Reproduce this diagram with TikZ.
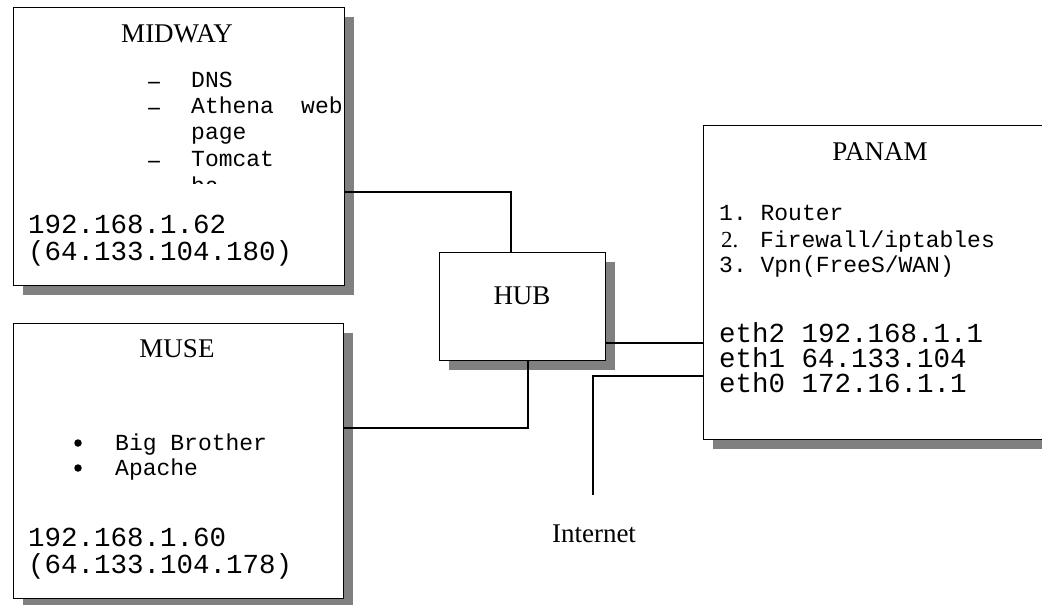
\documentclass[tikz,border=0pt]{standalone}
\usepackage{fontspec}
\setmainfont{Liberation Serif}
\setmonofont{Liberation Mono}
\usetikzlibrary{shadows}
\definecolor{shgray}{HTML}{808080}
\tikzset{
  box/.style={draw=black, line width=1.2pt, fill=white, anchor=north west, inner sep=0pt,
    drop shadow={opacity=1, fill=shgray, shadow xshift=9pt, shadow yshift=-9pt}},
  title/.style={font=\fontsize{27}{27}\selectfont, anchor=base, inner sep=0pt},
  item/.style={font=\ttfamily\fontsize{23}{23}\selectfont, anchor=base west, inner sep=0pt},
  ip/.style={font=\ttfamily\fontsize{27.5}{27.5}\selectfont, anchor=base west, inner sep=0pt},
  bul/.style={font=\bfseries\fontsize{23}{23}\selectfont, anchor=base, inner sep=0pt},
  dot/.style={circle, fill=black, inner sep=0pt, minimum size=7.5pt},
  wire/.style={draw=black, line width=1.2pt}
}
\begin{document}
\begin{tikzpicture}[x=1pt, y=-1pt]
\useasboundingbox (0,0) rectangle (1042,605);
\clip (0,0) rectangle (1042,605);

% boxes
\node[box, minimum width=331pt, minimum height=278pt] (midway) at (13,7) {};
\node[box, minimum width=330pt, minimum height=275pt] (muse) at (13,323) {};
\node[box, minimum width=350pt, minimum height=314pt] (panam) at (703,125) {};
\node[box, minimum width=166pt, minimum height=108pt] (hub) at (439,252) {};

% MIDWAY
\node[title] (midwaytitle) at (177,42) {MIDWAY};
\begin{scope}
\clip (13,7) rectangle (344,183);
\node[bul] (d1) at (154,88) {–};
\node[item] (dns) at (191,87) {DNS};
\node[bul] (d2) at (154,114) {–};
\node[item] (athena) at (191,113) {Athena};
\node[item] (web) at (301,113) {web};
\node[item] (page) at (191,139) {page};
\node[bul] (d3) at (154,167) {–};
\node[item] (tomcat) at (191,166) {Tomcat};
\node[item] (ba) at (191,193) {ba};
\end{scope}
\node[ip] (midwayip) at (28,233) {192.168.1.62};
\node[ip] (midwayext) at (28,260) {(64.133.104.180)};

% MUSE
\node[title] (musetitle) at (177,357) {MUSE};
\node[dot] (b1) at (78,443) {};
\node[item] (bigbrother) at (115,450) {Big Brother};
\node[dot] (b2) at (78,468) {};
\node[item] (apache) at (115,475) {Apache};
\node[ip] (museip) at (28,546) {192.168.1.60};
\node[ip] (museext) at (28,573) {(64.133.104.178)};

% PANAM
\node[title] (panamtitle) at (880,160) {PANAM};
\node[item] (router) at (719,220) {1. Router};
\node[bul, font=\fontsize{23}{23}\selectfont, anchor=base west] (two) at (721,247) {2.};
\node[item] (firewall) at (760,247) {Firewall/iptables};
\node[item] (vpn) at (719,272) {3. Vpn(FreeS/WAN)};
\node[ip] (eth2) at (719,342) {eth2 192.168.1.1};
\node[ip] (eth1) at (719,367) {eth1 64.133.104};
\node[ip] (eth0) at (719,392) {eth0 172.16.1.1};

% HUB
\node[title] (hubtitle) at (522,304) {HUB};

% Internet
\node[title] (internet) at (594,542) {Internet};
\coordinate (inet) at (593,495);

% connectors
\draw[wire] (midway.east |- 0,192) -| (hub.north -| 511,0);
\draw[wire] (muse.east |- 0,428) -| (hub.south -| 528,0);
\draw[wire] (hub.east |- 0,343) -- (panam.west |- 0,343);
\draw[wire] (inet) |- (panam.west |- 0,376);
\end{tikzpicture}
\end{document}
